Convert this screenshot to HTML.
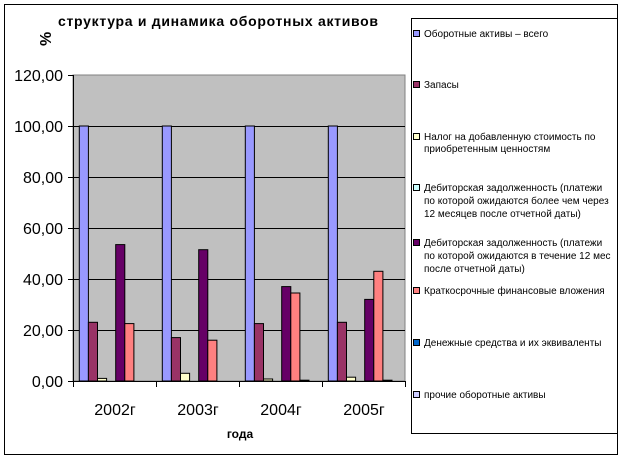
<!DOCTYPE html>
<html><head><meta charset="utf-8"><style>html,body{margin:0;padding:0;background:#fff}svg{display:block}</style></head>
<body>
<svg width="623" height="460" xmlns="http://www.w3.org/2000/svg" font-family="Liberation Sans, Arial, sans-serif">
<rect x="0" y="0" width="623" height="460" fill="#fff"/>
<rect x="4.5" y="4.5" width="613" height="450" fill="none" stroke="#000" stroke-width="1"/>
<text x="58" y="26" font-size="14" font-weight="bold" textLength="320" lengthAdjust="spacing">структура и динамика оборотных активов</text>
<text x="0" y="0" font-size="16" font-weight="bold" transform="translate(51,46) rotate(-90)">%</text>
<!-- plot -->
<rect x="73" y="75" width="332" height="306" fill="#c0c0c0" stroke="#808080" stroke-width="1"/>
<g stroke="#000" stroke-width="1">
<line x1="73" y1="126.5" x2="405" y2="126.5"/>
<line x1="73" y1="177.5" x2="405" y2="177.5"/>
<line x1="73" y1="228.5" x2="405" y2="228.5"/>
<line x1="73" y1="279.5" x2="405" y2="279.5"/>
<line x1="73" y1="330.5" x2="405" y2="330.5"/>
<line x1="73.5" y1="75" x2="73.5" y2="381"/>
<line x1="68" y1="381.5" x2="405" y2="381.5"/>
<line x1="68" y1="75.5" x2="73" y2="75.5"/>
<line x1="68" y1="126.5" x2="73" y2="126.5"/>
<line x1="68" y1="177.5" x2="73" y2="177.5"/>
<line x1="68" y1="228.5" x2="73" y2="228.5"/>
<line x1="68" y1="279.5" x2="73" y2="279.5"/>
<line x1="68" y1="330.5" x2="73" y2="330.5"/>
<line x1="73.5" y1="381" x2="73.5" y2="387"/>
<line x1="156.5" y1="381" x2="156.5" y2="387"/>
<line x1="239.5" y1="381" x2="239.5" y2="387"/>
<line x1="322.5" y1="381" x2="322.5" y2="387"/>
<line x1="405.5" y1="381" x2="405.5" y2="387"/>
</g>
<g stroke="#000" stroke-width="1">
<rect x="79.3" y="126" width="9.1" height="255" fill="#9999ff"/>
<rect x="88.4" y="322.3" width="9.1" height="58.7" fill="#993366"/>
<rect x="97.5" y="378.4" width="9.1" height="2.6" fill="#ffffcc"/>
<rect x="115.7" y="244.6" width="9.1" height="136.4" fill="#660066"/>
<rect x="124.8" y="323.6" width="9.1" height="57.4" fill="#ff8080"/>
<rect x="162.3" y="126" width="9.1" height="255" fill="#9999ff"/>
<rect x="171.4" y="337.6" width="9.1" height="43.4" fill="#993366"/>
<rect x="180.5" y="373.3" width="9.1" height="7.7" fill="#ffffcc"/>
<rect x="198.7" y="249.7" width="9.1" height="131.3" fill="#660066"/>
<rect x="207.8" y="340.2" width="9.1" height="40.8" fill="#ff8080"/>
<rect x="245.3" y="126" width="9.1" height="255" fill="#9999ff"/>
<rect x="254.4" y="323.6" width="9.1" height="57.4" fill="#993366"/>
<rect x="263.5" y="379" width="9.1" height="2" fill="#ffffcc"/>
<rect x="281.7" y="286.6" width="9.1" height="94.4" fill="#660066"/>
<rect x="290.8" y="293" width="9.1" height="88" fill="#ff8080"/>
<rect x="299.9" y="380.2" width="9.1" height="0.8" fill="#0066cc"/>
<rect x="328.3" y="126" width="9.1" height="255" fill="#9999ff"/>
<rect x="337.4" y="322.3" width="9.1" height="58.7" fill="#993366"/>
<rect x="346.5" y="377.2" width="9.1" height="3.8" fill="#ffffcc"/>
<rect x="364.7" y="299.4" width="9.1" height="81.6" fill="#660066"/>
<rect x="373.8" y="271.3" width="9.1" height="109.7" fill="#ff8080"/>
<rect x="382.9" y="380.2" width="9.1" height="0.8" fill="#0066cc"/>
</g>
<g font-size="16" text-anchor="end">
<text x="63" y="81">120,00</text>
<text x="63" y="132">100,00</text>
<text x="63" y="183">80,00</text>
<text x="63" y="234">60,00</text>
<text x="63" y="285">40,00</text>
<text x="63" y="336">20,00</text>
<text x="63" y="387">0,00</text>
</g>
<g font-size="16" text-anchor="middle">
<text x="115" y="415">2002г</text>
<text x="198" y="415">2003г</text>
<text x="281" y="415">2004г</text>
<text x="364" y="415">2005г</text>
</g>
<text x="240" y="438" font-size="12" font-weight="bold" text-anchor="middle">года</text>
<defs><clipPath id="lc"><rect x="411" y="18" width="206" height="417"/></clipPath></defs>
<rect x="411.5" y="18.5" width="206" height="415" fill="#fff" stroke="#000" stroke-width="1"/>
<g clip-path="url(#lc)" font-size="10">
<g stroke="#000" stroke-width="1">
<rect x="413.5" y="30.5" width="6" height="6" fill="#9999ff"/>
<rect x="413.5" y="81.5" width="6" height="6" fill="#993366"/>
<rect x="413.5" y="133.5" width="6" height="6" fill="#ffffcc"/>
<rect x="413.5" y="184.5" width="6" height="6" fill="#ccffff"/>
<rect x="413.5" y="239.5" width="6" height="6" fill="#660066"/>
<rect x="413.5" y="287.5" width="6" height="6" fill="#ff8080"/>
<rect x="413.5" y="339.5" width="6" height="6" fill="#0066cc"/>
<rect x="413.5" y="391.5" width="6" height="6" fill="#ccccff"/>
</g>
<text x="424" y="37">Оборотные активы – всего</text>
<text x="424" y="88">Запасы</text>
<text x="424" y="140">Налог на добавленную стоимость по</text>
<text x="424" y="152">приобретенным ценностям</text>
<text x="424" y="191">Дебиторская задолженность (платежи</text>
<text x="424" y="204">по которой ожидаются более чем через</text>
<text x="424" y="217">12 месяцев после отчетной даты)</text>
<text x="424" y="246">Дебиторская задолженность (платежи</text>
<text x="424" y="259">по которой ожидаются в течение 12 мес</text>
<text x="424" y="272">после отчетной даты)</text>
<text x="424" y="294">Краткосрочные финансовые вложения</text>
<text x="424" y="346">Денежные средства и их эквиваленты</text>
<text x="424" y="398">прочие оборотные активы</text>
</g>
<line x1="617.5" y1="4" x2="617.5" y2="455" stroke="#000"/>
</svg>
</body></html>
